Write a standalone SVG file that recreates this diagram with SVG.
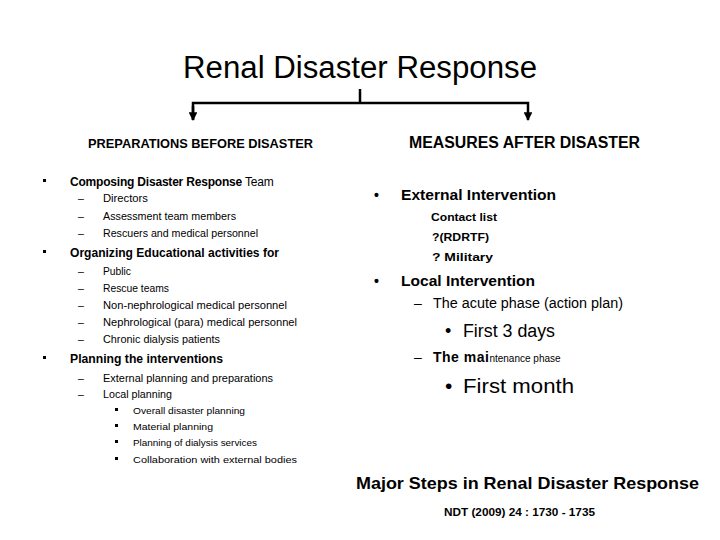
<svg xmlns="http://www.w3.org/2000/svg" width="720" height="540" viewBox="0 0 720 540">
<defs>
<style>
text{font-family:"Liberation Sans",Arial,sans-serif;fill:#000}
.b{font-weight:bold}
.h1{font-size:13px;font-weight:bold}
.l2{font-size:10.5px}
.l3{font-size:9.5px}
.rh{font-size:15px;font-weight:bold}
.rs{font-size:11.5px;font-weight:bold}
.conn{stroke:#000;fill:none;stroke-width:2.5}
</style>
<marker id="ah" viewBox="0 0 10 10" refX="9" refY="5" markerWidth="3.5" markerHeight="3.5" orient="auto">
<path d="M0,0 L10,5 L0,10 z" fill="#000"/>
</marker>
</defs>
<rect width="720" height="540" fill="#fff"/>

<g id="title">
<text x="360" y="78" font-size="31" text-anchor="middle" textLength="354" lengthAdjust="spacingAndGlyphs">Renal Disaster Response</text>
</g>

<g id="connectors">
<path class="conn" d="M193,120 V103 H528 V120" marker-end="url(#ah)"/>
<path class="conn" d="M193,106 V120" marker-end="url(#ah)"/>
<path class="conn" d="M360,103 V89" stroke-width="3"/>
</g>

<g id="before">
<text x="88" y="148" font-size="13" class="b" textLength="225" lengthAdjust="spacingAndGlyphs">PREPARATIONS BEFORE DISASTER</text>
<rect x="43" y="179" width="3" height="3"/>
<text x="70" y="186" font-size="12" letter-spacing="-0.2"><tspan font-weight="bold">Composing Disaster Response</tspan> Team</text>
<text x="78" y="202" class="l2">–</text><text x="103" y="202" class="l2" textLength="45" lengthAdjust="spacingAndGlyphs">Directors</text>
<text x="78" y="220" class="l2">–</text><text x="103" y="220" class="l2" textLength="133" lengthAdjust="spacingAndGlyphs">Assessment team members</text>
<text x="78" y="237" class="l2">–</text><text x="103" y="237" class="l2" textLength="155" lengthAdjust="spacingAndGlyphs">Rescuers and medical personnel</text>
<rect x="43" y="250" width="3" height="3"/>
<text x="70" y="257" class="h1" textLength="209" lengthAdjust="spacingAndGlyphs">Organizing Educational activities for</text>
<text x="78" y="275" class="l2">–</text><text x="103" y="275" class="l2" textLength="28" lengthAdjust="spacingAndGlyphs">Public</text>
<text x="78" y="292" class="l2">–</text><text x="103" y="292" class="l2" textLength="66" lengthAdjust="spacingAndGlyphs">Rescue teams</text>
<text x="78" y="309" class="l2">–</text><text x="103" y="309" class="l2" textLength="184" lengthAdjust="spacingAndGlyphs">Non-nephrological  medical personnel</text>
<text x="78" y="326" class="l2">–</text><text x="103" y="326" class="l2" textLength="194" lengthAdjust="spacingAndGlyphs">Nephrological  (para) medical personnel</text>
<text x="78" y="343" class="l2">–</text><text x="103" y="343" class="l2" textLength="117" lengthAdjust="spacingAndGlyphs">Chronic dialysis patients</text>
<rect x="43" y="356" width="3" height="3"/>
<text x="70" y="363" class="h1" textLength="153" lengthAdjust="spacingAndGlyphs">Planning the interventions</text>
<text x="78" y="382" class="l2">–</text><text x="103" y="382" class="l2" textLength="170" lengthAdjust="spacingAndGlyphs">External planning and preparations</text>
<text x="78" y="398" class="l2">–</text><text x="103" y="398" class="l2" textLength="69" lengthAdjust="spacingAndGlyphs">Local planning</text>
<rect x="115" y="408" width="3" height="3"/><text x="133" y="414" class="l3" textLength="112" lengthAdjust="spacingAndGlyphs">Overall disaster planning</text>
<rect x="115" y="424" width="3" height="3"/><text x="133" y="430" class="l3" textLength="80" lengthAdjust="spacingAndGlyphs">Material planning</text>
<rect x="115" y="440" width="3" height="3"/><text x="133" y="446" class="l3" textLength="124" lengthAdjust="spacingAndGlyphs">Planning of dialysis services</text>
<rect x="115" y="457" width="3" height="3"/><text x="133" y="463" class="l3" textLength="164" lengthAdjust="spacingAndGlyphs">Collaboration with external bodies</text>
</g>

<g id="after">
<text x="409" y="148" font-size="16" class="b" textLength="231" lengthAdjust="spacingAndGlyphs">MEASURES AFTER DISASTER</text>
<text x="374" y="200" font-size="14" class="b">•</text>
<text x="401" y="200" class="rh" textLength="155" lengthAdjust="spacingAndGlyphs">External Intervention</text>
<text x="431" y="221" class="rs" textLength="66" lengthAdjust="spacingAndGlyphs">Contact list</text>
<text x="432" y="241" class="rs" textLength="57" lengthAdjust="spacingAndGlyphs">?(RDRTF)</text>
<text x="432" y="261" class="rs" textLength="61" lengthAdjust="spacingAndGlyphs">? Military</text>
<text x="374" y="286" font-size="14" class="b">•</text>
<text x="401" y="286" class="rh" textLength="134" lengthAdjust="spacingAndGlyphs">Local Intervention</text>
<text x="414" y="308" font-size="14">–</text>
<text x="433" y="308" font-size="14" textLength="190" lengthAdjust="spacingAndGlyphs">The acute phase (action plan)</text>
<text x="445" y="337" font-size="18">•</text>
<text x="463" y="337" font-size="18" textLength="92" lengthAdjust="spacingAndGlyphs">First 3 days</text>
<text x="414" y="362" font-size="14">–</text>
<text x="433" y="362" font-size="14"><tspan font-weight="bold" letter-spacing="0.5">The mai</tspan><tspan font-size="10">ntenance phase</tspan></text>
<text x="445" y="393" font-size="21">•</text>
<text x="463" y="393" font-size="21" textLength="111" lengthAdjust="spacingAndGlyphs">First month</text>
</g>

<g id="caption">
<text x="356" y="489" font-size="16.5" class="b" textLength="343" lengthAdjust="spacingAndGlyphs">Major Steps in Renal Disaster Response</text>
<text x="444" y="516" font-size="11" class="b" textLength="151" lengthAdjust="spacingAndGlyphs">NDT (2009) 24 : 1730 - 1735</text>
</g>
</svg>
